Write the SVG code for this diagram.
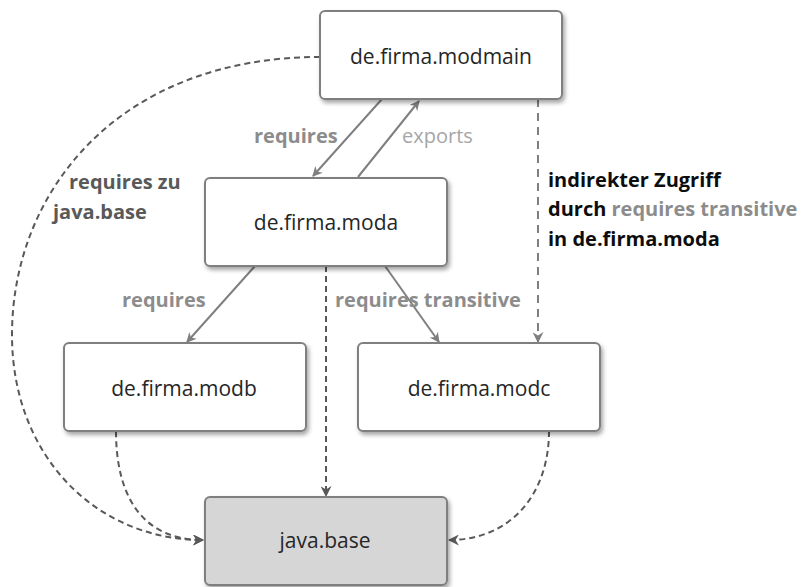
<svg xmlns="http://www.w3.org/2000/svg" width="803" height="587" viewBox="0 0 803 587">
  <defs>
    <filter id="shadow" x="-10%" y="-10%" width="125%" height="135%">
      <feDropShadow dx="2" dy="3" stdDeviation="2" flood-color="#000" flood-opacity="0.35"/>
    </filter>
    <marker id="arrSolid" viewBox="0 0 10 10" refX="9" refY="5" markerWidth="5" markerHeight="5" orient="auto" markerUnits="strokeWidth">
      <path d="M0,0 L10,5 L0,10 L3,5 z" fill="#7f7f7f"/>
    </marker>
    <marker id="arrDash" viewBox="0 0 10 10" refX="9" refY="5" markerWidth="5.5" markerHeight="5.5" orient="auto" markerUnits="strokeWidth">
      <path d="M0,0 L10,5 L0,10 L3,5 z" fill="#595959"/>
    </marker>
    <marker id="arrDashLight" viewBox="0 0 10 10" refX="9" refY="5" markerWidth="5.5" markerHeight="5.5" orient="auto" markerUnits="strokeWidth">
      <path d="M0,0 L10,5 L0,10 L3,5 z" fill="#7f7f7f"/>
    </marker>
  </defs>
  <style>
    .box { fill: #ffffff; stroke: #7f7f7f; stroke-width: 2; filter: url(#shadow); }
    .base { fill: #d6d6d6; }
    .name { font-family: "Open Sans", "Noto Sans", sans-serif; font-size: 21px; fill: #262626; text-anchor: middle; }
    .solid { fill: none; stroke: #7f7f7f; stroke-width: 2; marker-end: url(#arrSolid); }
    .dash { fill: none; stroke: #595959; stroke-width: 2; stroke-dasharray: 6 4; marker-end: url(#arrDash); }
    .dashLight { fill: none; stroke: #7f7f7f; stroke-width: 2; stroke-dasharray: 8 6; marker-end: url(#arrDashLight); }
    .lbl, .lblDark, .lblBlack, .lblLight { font-family: "Open Sans", "Noto Sans", sans-serif; font-size: 20px; }
    .lbl { font-weight: 700; fill: #8c8c8c; }
    .lblDark { font-weight: 700; fill: #595959; }
    .lblBlack { font-weight: 700; fill: #0d0d0d; }
    .lblLight { fill: #a6a6a6; }
  </style>

  <!-- connectors -->
  <g id="connectors">
    <path class="solid" d="M382,99 L313,176"/>
    <path class="solid" d="M358,177 L419,101"/>
    <path class="dash" d="M320,57 C120,57 12,190 12,335 C12,455 95,540 203,540"/>
    <path class="dash" d="M116,431 C116,500 145,540 203,540"/>
    <path class="dash" d="M326,266 L326,496"/>
    <path class="dash" d="M549,431 C549,495 510,540 449,540"/>
    <path class="solid" d="M255,266 L187,342"/>
    <path class="solid" d="M385,266 L439,342"/>
    <path class="dashLight" d="M538,99 L538,342"/>
  </g>

  <!-- connector labels -->
  <g id="labels">
    <text class="lbl" x="254" y="143">requires</text>
    <text class="lblLight" x="402" y="143">exports</text>
    <text class="lblDark" x="69" y="189">requires zu</text>
    <text class="lblDark" x="53" y="219">java.base</text>
    <text class="lblBlack" x="548" y="187">indirekter Zugriff</text>
    <text class="lblBlack" x="548" y="216">durch <tspan fill="#8c8c8c">requires transitive</tspan></text>
    <text class="lblBlack" x="548" y="246">in de.firma.moda</text>
    <text class="lbl" x="122" y="307">requires</text>
    <text class="lbl" x="335" y="307">requires transitive</text>
  </g>

  <g id="modmain">
    <rect class="box" x="320" y="11" width="242" height="88" rx="5"/>
    <text class="name" x="441" y="64">de.firma.modmain</text>
  </g>
  <g id="moda">
    <rect class="box" x="205" y="178" width="242" height="88" rx="5"/>
    <text class="name" x="326" y="230">de.firma.moda</text>
  </g>
  <g id="modb">
    <rect class="box" x="64" y="343" width="242" height="88" rx="5"/>
    <text class="name" x="184" y="396">de.firma.modb</text>
  </g>
  <g id="modc">
    <rect class="box" x="358" y="343" width="242" height="88" rx="5"/>
    <text class="name" x="479" y="396">de.firma.modc</text>
  </g>
  <g id="javabase">
    <rect class="box base" x="205" y="497" width="242" height="88" rx="5"/>
    <text class="name" x="325" y="548">java.base</text>
  </g>
</svg>
